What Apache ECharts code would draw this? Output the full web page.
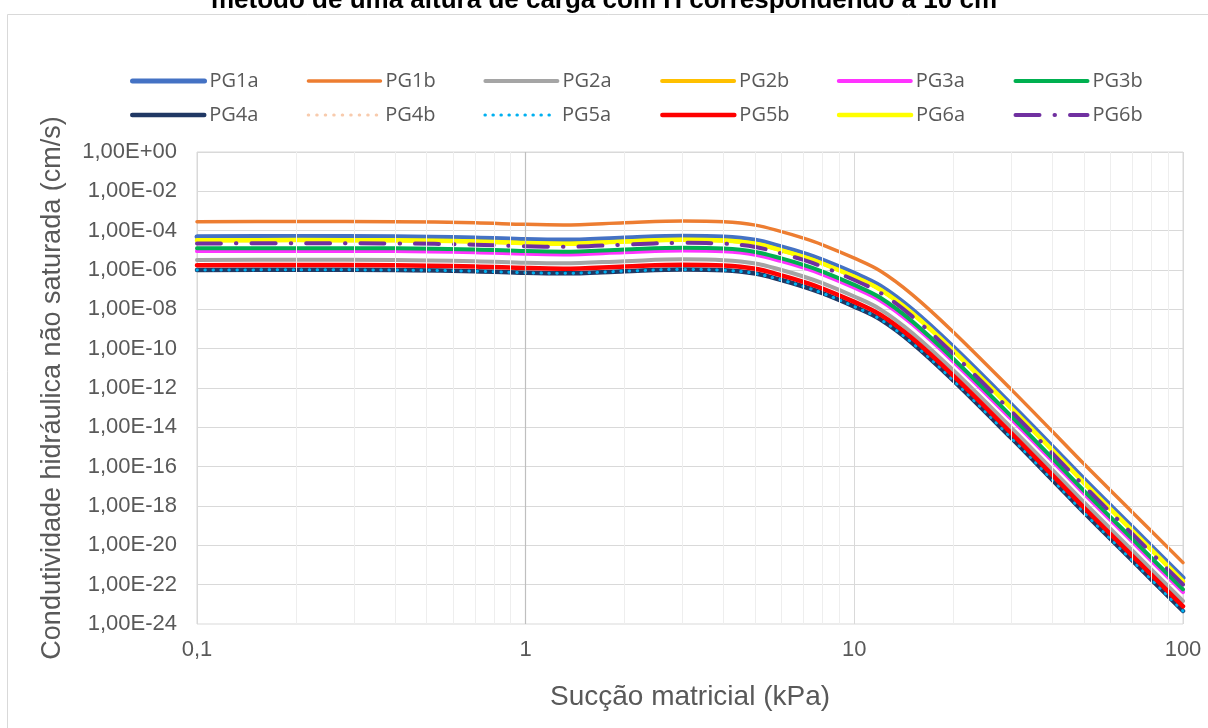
<!DOCTYPE html>
<html><head><meta charset="utf-8">
<script src="https://cdn.jsdelivr.net/npm/echarts@6/dist/echarts.min.js"></script>
<style>html,body{margin:0;padding:0;background:#fff}#c{width:1208px;height:728px}</style>
</head><body><div id="c"></div>
<script>
// Sucção matricial (kPa)
const succao = [0.1, 0.2, 0.4, 0.7, 1, 1.3, 2, 3, 4, 5, 6, 7, 8, 10, 12, 15, 20, 30, 40, 50, 70, 100];
// Condutividade hidráulica não saturada (cm/s)
const PG1a = [4.90e-5, 5.01e-5, 4.90e-5, 4.27e-5, 3.55e-5, 3.31e-5, 4.27e-5, 5.25e-5, 4.79e-5, 3.24e-5, 1.51e-5, 7.08e-6, 3.24e-6, 6.76e-7, 1.51e-7, 9.55e-9, 1.20e-10, 1.45e-13, 1.07e-15, 2.29e-17, 8.51e-20, 2.24e-22];
const PG1b = [2.88e-4, 2.95e-4, 2.88e-4, 2.51e-4, 2.09e-4, 1.95e-4, 2.51e-4, 3.09e-4, 2.82e-4, 1.91e-4, 8.91e-5, 4.17e-5, 1.91e-5, 3.98e-6, 8.91e-7, 5.62e-8, 7.08e-10, 8.51e-13, 6.31e-15, 1.35e-16, 5.01e-19, 1.32e-21];
const PG2a = [3.24e-6, 3.31e-6, 3.24e-6, 2.82e-6, 2.34e-6, 2.19e-6, 2.82e-6, 3.47e-6, 3.16e-6, 2.14e-6, 1.00e-6, 4.68e-7, 2.14e-7, 4.47e-8, 1.00e-8, 6.31e-10, 7.94e-12, 9.55e-15, 7.08e-17, 1.51e-18, 5.62e-21, 1.48e-23];
const PG2b = [3.24e-5, 3.31e-5, 3.24e-5, 2.82e-5, 2.34e-5, 2.19e-5, 2.82e-5, 3.47e-5, 3.16e-5, 2.14e-5, 1.00e-5, 4.68e-6, 2.14e-6, 4.47e-7, 1.00e-7, 6.31e-9, 7.94e-11, 9.55e-14, 7.08e-16, 1.51e-17, 5.62e-20, 1.48e-22];
const PG3a = [9.12e-6, 9.33e-6, 9.12e-6, 7.94e-6, 6.61e-6, 6.17e-6, 7.94e-6, 9.77e-6, 8.91e-6, 6.03e-6, 2.82e-6, 1.32e-6, 6.03e-7, 1.26e-7, 2.82e-8, 1.78e-9, 2.24e-11, 2.69e-14, 2.00e-16, 4.27e-18, 1.58e-20, 4.17e-23];
const PG3b = [1.26e-5, 1.29e-5, 1.26e-5, 1.10e-5, 9.12e-6, 8.51e-6, 1.10e-5, 1.35e-5, 1.23e-5, 8.32e-6, 3.89e-6, 1.82e-6, 8.32e-7, 1.74e-7, 3.89e-8, 2.45e-9, 3.09e-11, 3.72e-14, 2.75e-16, 5.89e-18, 2.19e-20, 5.75e-23];
const PG4a = [1.00e-6, 1.02e-6, 1.00e-6, 8.71e-7, 7.24e-7, 6.76e-7, 8.71e-7, 1.07e-6, 9.77e-7, 6.61e-7, 3.09e-7, 1.45e-7, 6.61e-8, 1.38e-8, 3.09e-9, 1.95e-10, 2.45e-12, 2.95e-15, 2.19e-17, 4.68e-19, 1.74e-21, 4.57e-24];
const PG4b = [1.74e-6, 1.78e-6, 1.74e-6, 1.51e-6, 1.26e-6, 1.17e-6, 1.51e-6, 1.86e-6, 1.70e-6, 1.15e-6, 5.37e-7, 2.51e-7, 1.15e-7, 2.40e-8, 5.37e-9, 3.39e-10, 4.27e-12, 5.13e-15, 3.80e-17, 8.13e-19, 3.02e-21, 7.94e-24];
const PG5a = [1.00e-6, 1.02e-6, 1.00e-6, 8.71e-7, 7.24e-7, 6.76e-7, 8.71e-7, 1.07e-6, 9.77e-7, 6.61e-7, 3.09e-7, 1.45e-7, 6.61e-8, 1.38e-8, 3.09e-9, 1.95e-10, 2.45e-12, 2.95e-15, 2.19e-17, 4.68e-19, 1.74e-21, 4.57e-24];
const PG5b = [1.74e-6, 1.78e-6, 1.74e-6, 1.51e-6, 1.26e-6, 1.17e-6, 1.51e-6, 1.86e-6, 1.70e-6, 1.15e-6, 5.37e-7, 2.51e-7, 1.15e-7, 2.40e-8, 5.37e-9, 3.39e-10, 4.27e-12, 5.13e-15, 3.80e-17, 8.13e-19, 3.02e-21, 7.94e-24];
const PG6a = [3.24e-5, 3.31e-5, 3.24e-5, 2.82e-5, 2.34e-5, 2.19e-5, 2.82e-5, 3.47e-5, 3.16e-5, 2.14e-5, 1.00e-5, 4.68e-6, 2.14e-6, 4.47e-7, 1.00e-7, 6.31e-9, 7.94e-11, 9.55e-14, 7.08e-16, 1.51e-17, 5.62e-20, 1.48e-22];
const PG6b = [2.24e-5, 2.29e-5, 2.24e-5, 1.95e-5, 1.62e-5, 1.51e-5, 1.95e-5, 2.40e-5, 2.19e-5, 1.48e-5, 6.92e-6, 3.24e-6, 1.48e-6, 3.09e-7, 6.92e-8, 4.37e-9, 5.50e-11, 6.61e-14, 4.90e-16, 1.05e-17, 3.89e-20, 1.02e-22];

const seriesNames = ['PG1a','PG1b','PG2a','PG2b','PG3a','PG3b','PG4a','PG4b','PG5a','PG5b','PG6a','PG6b'];
const seriesValues = [PG1a,PG1b,PG2a,PG2b,PG3a,PG3b,PG4a,PG4b,PG5a,PG5b,PG6a,PG6b];
// axis ranges: x 0,1 … 100 (kPa); y 1,00E-24 … 1,00E+00, labels every 2 decades
const xRange = [0.1, 100];
const yRange = [1e-24, 1];
const yDecadeStep = 2;

const styles = [
  {color:'#4472C4', width:5, type:'solid'},
  {color:'#ED7D31', width:3.5, type:'solid'},
  {color:'#A5A5A5', width:4, type:'solid'},
  {color:'#FFC000', width:4, type:'solid'},
  {color:'#FF33FF', width:4, type:'solid'},
  {color:'#00B050', width:4, type:'solid'},
  {color:'#203864', width:4.5, type:'solid'},
  {color:'#F8CBAD', width:3, type:[0.5, 8]},
  {color:'#00B0F0', width:3, type:[0.5, 7.5]},
  {color:'#FF0000', width:4.5, type:'solid'},
  {color:'#FFFF00', width:4.5, type:'solid'},
  {color:'#7030A0', width:4, type:[24, 15, 0.5, 15]}
];

const FONT = '"Liberation Sans", Arial, sans-serif';
const GREY = '#595959';
const GRID = {left: 197, right: 25, top: 152, bottom: 104};
const Y_LABEL_MARGIN = 20;

// minor vertical gridlines at 2..9 of each decade (grid structure, not data)
const minorLines = [];
for (const d of [0.1, 1, 10]) for (let k = 2; k <= 9; k++) minorLines.push({xAxis: +(d*k).toPrecision(6)});

const series = seriesNames.map((n, i) => ({
  name: n, type: 'line', smooth: 0.35, symbol: 'none', showSymbol: false, z: 3,
  data: succao.map((x, j) => [x, seriesValues[i][j]]),
  lineStyle: {color: styles[i].color, width: styles[i].width, type: styles[i].type, cap: 'round', join: 'round'},
  itemStyle: {color: styles[i].color},
  emphasis: {disabled: true}, animation: false
}));
series.push({
  name: '_grid', type: 'line', data: [], silent: true, z: 1, animation: false,
  markLine: {
    silent: true, symbol: ['none','none'], label: {show: false}, animation: false,
    lineStyle: {color: '#eeeeee', width: 1, type: 'solid'},
    data: minorLines.concat([{xAxis: 1, lineStyle: {color: '#bfbfbf', width: 1.2, type: 'solid'}}])
  }
});

const legends = seriesNames.map((n, i) => ({
  data: [n], left: 130 + (i % 6) * 176.7, top: i < 6 ? 71 : 105,
  padding: 0, itemWidth: 72, itemHeight: 14, itemGap: 0, selectedMode: false,
  textStyle: {fontFamily: '"Open Sans", sans-serif', fontSize: 20, color: GREY},
  lineStyle: {width: styles[i].width},
  itemStyle: {opacity: 0}
}));

const fmtY = v => {
  v = +v;
  if (!(v > 0) || !isFinite(v)) return '';
  const s = v.toExponential(2);
  const [m, e] = s.split('e');
  const ei = parseInt(e, 10);
  return m.replace('.', ',') + 'E' + (ei < 0 ? '-' : '+') + String(Math.abs(ei)).padStart(2, '0');
};
const yLabelStyle = {color: GREY, fontSize: 22, fontFamily: FONT};

const chart = echarts.init(document.getElementById('c'), null, {renderer: 'canvas'});
chart.setOption({
  backgroundColor: '#fff',
  animation: false,
  title: {
    text: 'método de uma altura de carga com H correspondendo a 10 cm',
    left: 'center', top: -17,
    textStyle: {fontFamily: FONT, fontSize: 26, fontWeight: 'bold', color: '#000'}
  },
  graphic: [{id: 'frame', type: 'rect', shape: {x: 7.5, y: 14.5, width: 1400, height: 900}, style: {fill: 'none', stroke: '#d9d9d9', lineWidth: 1}, z: -10, silent: true}],
  legend: legends,
  grid: Object.assign({containLabel: false, outerBoundsMode: 'none', show: true, borderColor: '#d9d9d9', borderWidth: 1, backgroundColor: 'transparent'}, GRID),
  xAxis: {
    type: 'log', logBase: 10, min: xRange[0], max: xRange[1],
    axisLine: {show: false}, axisTick: {show: false},
    splitLine: {show: true, lineStyle: {color: '#d9d9d9', width: 1}},
    axisLabel: {color: GREY, fontSize: 22, fontFamily: FONT, margin: 15,
      formatter: v => String(+(+v).toPrecision(6)).replace('.', ',')},
    name: 'Sucção matricial (kPa)', nameLocation: 'middle', nameGap: 59,
    nameTextStyle: {color: GREY, fontSize: 28, fontFamily: FONT}
  },
  yAxis: {
    type: 'log', logBase: 10, min: yRange[0], max: yRange[1], interval: yDecadeStep,
    axisLine: {show: false}, axisTick: {show: false},
    splitLine: {show: true, lineStyle: {color: '#d9d9d9', width: 1}},
    axisLabel: Object.assign({margin: Y_LABEL_MARGIN, showMinLabel: false, formatter: fmtY}, yLabelStyle),
    name: 'Condutividade hidráulica não saturada (cm/s)', nameLocation: 'middle', nameGap: 131,
    nameTextStyle: {color: GREY, fontSize: 27, fontFamily: FONT}
  },
  series: series
});

// ECharts rounds log-axis boundary ticks below 1e-20 to 0, so the label for the
// axis minimum is placed at the position the y axis itself gives for that value.
const yMinPx = chart.convertToPixel({yAxisIndex: 0}, yRange[0]);
chart.setOption({
  graphic: [{id: 'yMinLabel', type: 'text', silent: true,
    x: GRID.left - Y_LABEL_MARGIN, y: yMinPx,
    style: Object.assign({text: fmtY(yRange[0]), align: 'right', verticalAlign: 'middle',
      fill: yLabelStyle.color, font: '22px ' + FONT})}]
});
</script>
</body></html>
